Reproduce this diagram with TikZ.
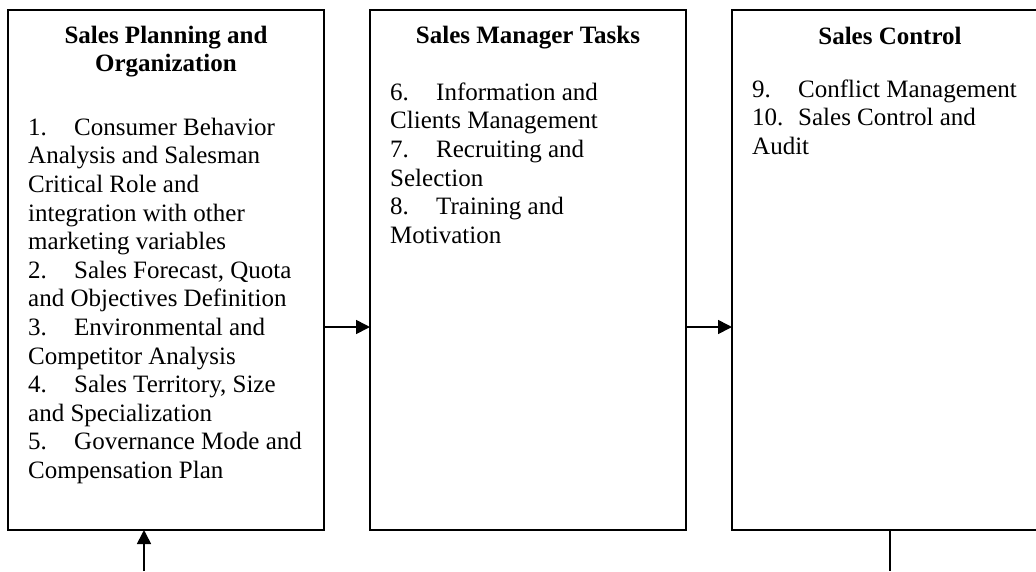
\documentclass[tikz,border=0pt]{standalone}
\usepackage{fontspec}
\setmainfont{Liberation Serif}
\usepackage{tikz}
\usetikzlibrary{arrows.meta, positioning}

\newcommand{\itemno}[1]{\makebox[46pt][l]{#1}}

\tikzset{
  stage/.style={draw, line width=1.6pt, minimum width=316pt, minimum height=520pt,
                inner sep=0pt, outer sep=0pt},
  heading/.style={anchor=north, align=center, inner sep=0pt,
                  font=\fontsize{25}{28.6}\selectfont\bfseries},
  items/.style={anchor=north west, align=left, inner sep=0pt,
                font=\fontsize{25}{28.6}\selectfont},
  flow/.style={line width=1.6pt, -{Triangle[length=14pt,width=14pt]}}
}

\begin{document}
\begin{tikzpicture}[x=1pt, y=-1pt]
        \useasboundingbox (0,0) rectangle (1036,571);
        \clip (0,0) rectangle (1036,571);

        \node[stage]                      (plan)    at (166,270) {};
        \node[stage, right=46pt of plan]  (tasks)   {};
        \node[stage, right=46pt of tasks] (control) {};

        % headings
        \node[heading] (planhead)    at ([yshift=-13pt]plan.north)    {\strut Sales Planning and\\ Organization};
        \node[heading] (taskshead)   at ([yshift=-13pt]tasks.north)   {\strut Sales Manager Tasks};
        \node[heading] (controlhead) at ([yshift=-14pt]control.north) {\strut Sales Control};

        % lists
        \node[items] (planlist) at ([xshift=20pt,yshift=-105pt]plan.north west) {\strut\itemno{1.}Consumer Behavior\\
            Analysis and Salesman\\
            Critical Role and\\
            integration with other\\
            marketing variables\\
            \itemno{2.}Sales Forecast, Quota\\
            and Objectives Definition\\
            \itemno{3.}Environmental and\\
            Competitor Analysis\\
            \itemno{4.}Sales Territory, Size\\
            and Specialization\\
            \itemno{5.}Governance Mode and\\
            Compensation Plan};
        \node[items] (tasklist) at ([xshift=20pt,yshift=-70pt]tasks.north west) {\strut\itemno{6.}Information and\\
            Clients Management\\
            \itemno{7.}Recruiting and\\
            Selection\\
            \itemno{8.}Training and\\
            Motivation};
        \node[items] (controllist) at ([xshift=20pt,yshift=-67pt]control.north west) {\strut\itemno{9.}Conflict Management\\
            \itemno{10.}Sales Control and\\
            Audit};

        % connectors
        \coordinate (feedin)  at (144,571);
        \coordinate (feedout) at (control.south |- feedin);

        \draw[flow] ([yshift=-57pt]plan.east) -- ([yshift=-57pt]tasks.west);
        \draw[flow] ([yshift=-57pt]tasks.east) -- ([yshift=-57pt]control.west);
        \draw[flow] (feedin) -- (feedin |- plan.south);
        \draw[line width=1.4pt] (control.south) -- (feedout);
\end{tikzpicture}
\end{document}
